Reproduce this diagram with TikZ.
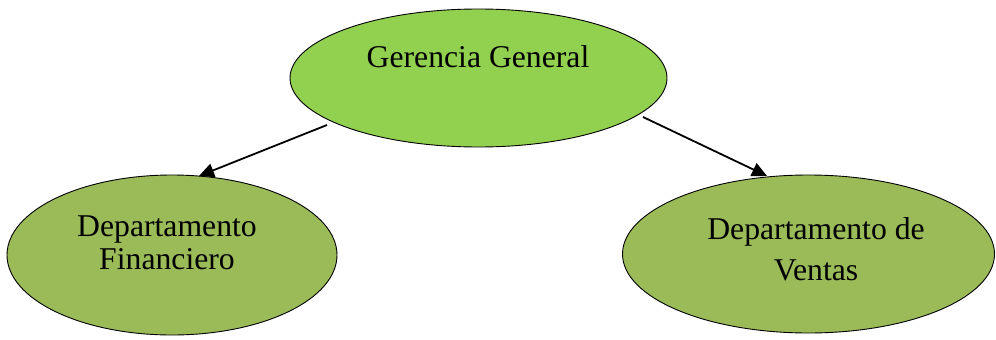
\documentclass[tikz,border=0pt]{standalone}
\usepackage{fontspec}
\setmainfont{Liberation Serif}
\usetikzlibrary{shapes.geometric,arrows.meta}
\definecolor{topgreen}{HTML}{92D050}
\definecolor{olivegreen}{HTML}{9BBB59}
\tikzset{
  unitbox/.style={draw=black, line width=0.9pt, ellipse, inner sep=0pt},
  label text/.style={anchor=base, inner sep=0pt, font=\fontsize{31.7}{33}\selectfont},
  link/.style={line width=1.8pt, -{Triangle[length=15pt,width=14pt]}}
}
\begin{document}
\begin{tikzpicture}[x=1pt,y=-1pt]
  \useasboundingbox (0,0) rectangle (996,340);
  % ellipses
  \node[unitbox, fill=topgreen, minimum width=377pt, minimum height=138pt] (gg) at (478.5,78) {};
  \node[unitbox, fill=olivegreen, minimum width=330pt, minimum height=160pt] (fin) at (172,255) {};
  \node[unitbox, fill=olivegreen, minimum width=372pt, minimum height=158pt] (ven) at (808.5,254) {};
  % texts
  \node[label text] (ggtext) at (478,67) {Gerencia General};
  \node[label text] (fintext1) at (167,236) {Departamento};
  \node[label text] (fintext2) at (167,269) {Financiero};
  \node[label text] (ventext1) at (816,239) {Departamento de};
  \node[label text] (ventext2) at (816,280) {Ventas};
  % connector ends
  \coordinate (ggleft) at (327,125);
  \coordinate (ggright) at (643,117);
  \coordinate (fintop) at (199,176);
  \coordinate (ventop) at (767,176);
  \draw[link] (ggleft) -- (fintop);
  \draw[link] (ggright) -- (ventop);
\end{tikzpicture}
\end{document}
